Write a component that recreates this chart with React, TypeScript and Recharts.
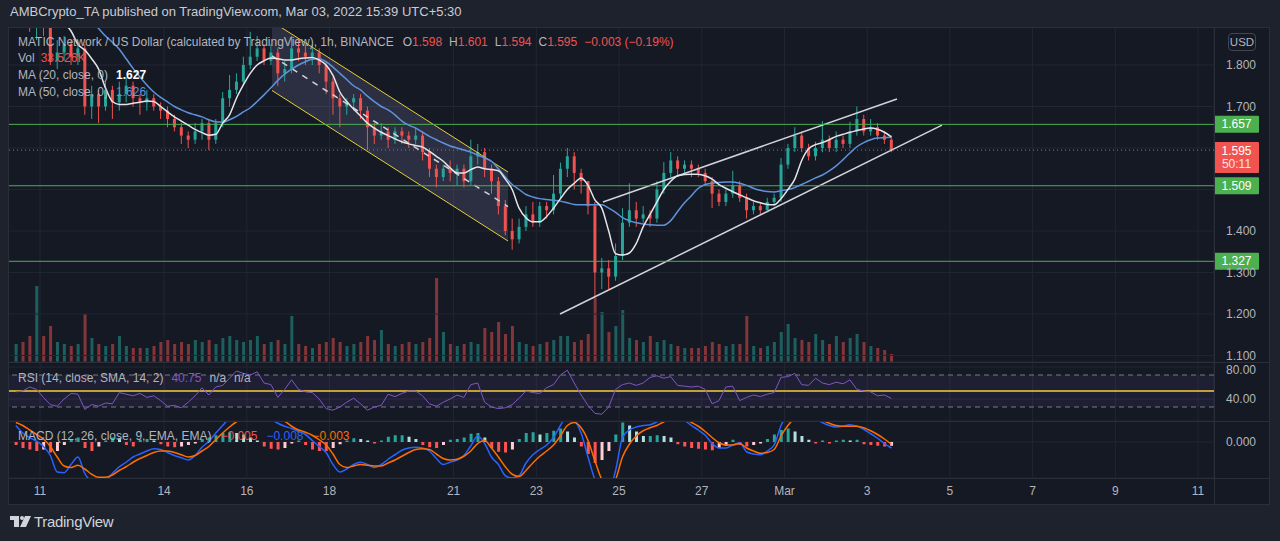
import React from 'react';
import { ComposedChart, Bar, Line, Area, XAxis, YAxis, CartesianGrid, ReferenceLine, ReferenceArea } from 'recharts';

const FONT = "'Liberation Sans', Arial, sans-serif";
const PAGE_BG = '#1e222d';
const BG = '#151924';
const BORDER = '#2a2e39';
const GRID = '#222632';
const TEXT = '#b2b5be';
const UP = '#26a69a';
const DOWN = '#ef5350';
const GREEN = '#4caf50';

// 4h candles, day 0 = Feb 11 00:00
const START_DAY = -0.667;
const CANDLE_DAYS = 1 / 6;
const FIRST_OPEN = 1.94;

const closes = [
  1.95, 1.93, 1.91, 1.93, 1.90, 1.81, 1.83, 1.85, 1.82, 1.84,
  1.70, 1.73, 1.70, 1.74, 1.71, 1.73, 1.75, 1.72, 1.71, 1.72,
  1.70, 1.69, 1.67, 1.65, 1.63, 1.62, 1.64, 1.66, 1.62, 1.66,
  1.72, 1.74, 1.76, 1.80, 1.82, 1.84, 1.81, 1.83, 1.78, 1.79,
  1.84, 1.83, 1.82, 1.83, 1.80, 1.76, 1.72, 1.70, 1.71, 1.72,
  1.69, 1.65, 1.63, 1.64, 1.62, 1.64, 1.63, 1.62, 1.63, 1.59,
  1.55, 1.53, 1.55, 1.54, 1.55, 1.52, 1.58, 1.59, 1.55, 1.52,
  1.46, 1.40, 1.38, 1.41, 1.44, 1.42, 1.46, 1.45, 1.49, 1.55,
  1.58, 1.54, 1.52, 1.46, 1.30, 1.31, 1.29, 1.34, 1.42, 1.45,
  1.43, 1.44, 1.43, 1.50, 1.54, 1.57, 1.55, 1.56, 1.55, 1.54,
  1.52, 1.49, 1.47, 1.49, 1.51, 1.48, 1.45, 1.46, 1.45, 1.47,
  1.48, 1.56, 1.60, 1.63, 1.60, 1.58, 1.60, 1.62, 1.60, 1.62,
  1.61, 1.64, 1.67, 1.64, 1.65, 1.63, 1.62, 1.595,
];

const highs = [
  1.97, 1.96, 1.94, 1.95, 1.94, 1.91, 1.86, 1.87, 1.86, 1.86,
  1.85, 1.75, 1.74, 1.76, 1.75, 1.76, 1.77, 1.76, 1.73, 1.74,
  1.73, 1.71, 1.70, 1.68, 1.66, 1.64, 1.66, 1.67, 1.67, 1.67,
  1.735, 1.776, 1.78, 1.82, 1.88, 1.87, 1.85, 1.85, 1.84, 1.81,
  1.87, 1.86, 1.85, 1.85, 1.84, 1.81, 1.77, 1.73, 1.72, 1.73,
  1.73, 1.70, 1.66, 1.66, 1.65, 1.65, 1.65, 1.64, 1.65, 1.64,
  1.60, 1.56, 1.56, 1.57, 1.56, 1.56, 1.62, 1.61, 1.60, 1.56,
  1.53, 1.475, 1.43, 1.43, 1.46, 1.47, 1.47, 1.47, 1.535, 1.565,
  1.60, 1.59, 1.55, 1.52, 1.47, 1.335, 1.33, 1.37, 1.455, 1.515,
  1.47, 1.46, 1.45, 1.52, 1.566, 1.59, 1.58, 1.57, 1.57, 1.56,
  1.55, 1.53, 1.50, 1.50, 1.545, 1.52, 1.49, 1.47, 1.47, 1.48,
  1.49, 1.576, 1.61, 1.65, 1.64, 1.61, 1.615, 1.665, 1.63, 1.64,
  1.63, 1.663, 1.70, 1.68, 1.67, 1.66, 1.64, 1.63,
];

const lows = [
  1.92, 1.91, 1.88, 1.86, 1.87, 1.80, 1.79, 1.81, 1.80, 1.80,
  1.68, 1.67, 1.66, 1.69, 1.67, 1.69, 1.71, 1.70, 1.68, 1.69,
  1.69, 1.67, 1.65, 1.64, 1.61, 1.60, 1.61, 1.62, 1.595, 1.61,
  1.65, 1.70, 1.73, 1.75, 1.79, 1.81, 1.80, 1.80, 1.75, 1.76,
  1.78, 1.81, 1.80, 1.80, 1.78, 1.73, 1.68, 1.65, 1.68, 1.69,
  1.67, 1.595, 1.61, 1.62, 1.60, 1.61, 1.61, 1.60, 1.61, 1.57,
  1.53, 1.505, 1.52, 1.52, 1.51, 1.505, 1.51, 1.56, 1.53, 1.49,
  1.44, 1.39, 1.355, 1.37, 1.40, 1.41, 1.41, 1.43, 1.44, 1.48,
  1.53, 1.50, 1.49, 1.44, 1.24, 1.26, 1.26, 1.28, 1.33, 1.41,
  1.41, 1.42, 1.41, 1.42, 1.49, 1.53, 1.53, 1.54, 1.53, 1.53,
  1.51, 1.455, 1.46, 1.46, 1.48, 1.47, 1.43, 1.44, 1.44, 1.45,
  1.46, 1.47, 1.55, 1.59, 1.59, 1.57, 1.57, 1.59, 1.59, 1.59,
  1.60, 1.60, 1.63, 1.63, 1.63, 1.62, 1.61, 1.59,
];

const volumes = [
  9, 10, 13, 38, 13, 18, 10, 9, 8, 9,
  24, 12, 9, 8, 9, 13, 8, 7, 7, 7,
  8, 10, 11, 9, 10, 9, 11, 10, 11, 9,
  12, 13, 11, 10, 11, 13, 9, 10, 11, 9,
  23, 9, 8, 7, 9, 10, 12, 10, 8, 9,
  10, 13, 11, 16, 9, 8, 9, 10, 9, 10,
  12, 42, 15, 9, 8, 9, 10, 9, 17, 15,
  20, 14, 18, 10, 9, 8, 9, 10, 11, 13,
  13, 10, 11, 14, 32, 25, 15, 18, 26, 12,
  11, 10, 13, 10, 11, 9, 8, 7, 7, 7,
  8, 10, 9, 8, 9, 9, 23, 8, 7, 8,
  10, 15, 19, 12, 11, 10, 14, 11, 9, 13,
  10, 12, 14, 10, 8, 7, 6, 4,
];

const ma20 = [
  1.99, 1.97, 1.95, 1.94, 1.93, 1.92, 1.91, 1.90, 1.882, 1.85,
  1.836, 1.815, 1.79, 1.745, 1.712, 1.705, 1.705, 1.708, 1.71, 1.713,
  1.712, 1.70, 1.687, 1.675, 1.665, 1.655, 1.645, 1.637, 1.631, 1.633,
  1.66, 1.68, 1.72, 1.752, 1.78, 1.80, 1.81, 1.817, 1.815, 1.812,
  1.812, 1.815, 1.817, 1.818, 1.812, 1.80, 1.775, 1.735, 1.712, 1.694,
  1.677, 1.66, 1.648, 1.638, 1.63, 1.622, 1.615, 1.61, 1.606, 1.602,
  1.592, 1.58, 1.568, 1.552, 1.54, 1.54, 1.548, 1.554, 1.55, 1.548,
  1.545, 1.525, 1.50, 1.455, 1.432, 1.422, 1.422, 1.435, 1.455, 1.478,
  1.50, 1.515, 1.528, 1.51, 1.475, 1.455, 1.40, 1.345, 1.342, 1.347,
  1.37, 1.41, 1.44, 1.47, 1.50, 1.52, 1.533, 1.536, 1.537, 1.537,
  1.533, 1.525, 1.512, 1.503, 1.495, 1.487, 1.48, 1.473, 1.468, 1.464,
  1.463, 1.478, 1.50, 1.525, 1.57, 1.598, 1.608, 1.613, 1.62, 1.628,
  1.633, 1.638, 1.642, 1.646, 1.648, 1.645, 1.638, 1.627,
];

const ma50 = [
  2.06, 2.05, 2.04, 2.03, 2.01, 1.99, 1.975, 1.96, 1.945, 1.93,
  1.92, 1.905, 1.888, 1.87, 1.855, 1.838, 1.815, 1.792, 1.771, 1.752,
  1.735, 1.722, 1.711, 1.70, 1.692, 1.685, 1.68, 1.675, 1.668, 1.663,
  1.662, 1.668, 1.676, 1.687, 1.697, 1.712, 1.728, 1.745, 1.763, 1.778,
  1.79, 1.80, 1.808, 1.814, 1.815, 1.808, 1.795, 1.78, 1.765, 1.75,
  1.74, 1.725, 1.712, 1.70, 1.692, 1.68, 1.665, 1.655, 1.648, 1.638,
  1.628, 1.62, 1.612, 1.605, 1.60, 1.595, 1.59, 1.583, 1.576, 1.568,
  1.55, 1.53, 1.512, 1.50, 1.488, 1.482, 1.478, 1.476, 1.474, 1.472,
  1.468, 1.464, 1.463, 1.463, 1.463, 1.463, 1.455, 1.445, 1.432, 1.425,
  1.42, 1.417, 1.415, 1.414, 1.414, 1.425, 1.447, 1.468, 1.485, 1.503,
  1.512, 1.515, 1.517, 1.518, 1.518, 1.515, 1.51, 1.503, 1.498, 1.495,
  1.494, 1.497, 1.50, 1.505, 1.512, 1.52, 1.528, 1.535, 1.545, 1.557,
  1.572, 1.588, 1.603, 1.613, 1.62, 1.624, 1.625, 1.626,
];

const rsi = [
  49, 50, 55, 52, 42, 33, 31, 40, 47, 46,
  27, 33, 31, 35, 34, 48, 46, 44, 47, 42,
  44, 38, 31, 32, 29, 36, 44, 54, 45, 55,
  57, 66, 75, 72, 70, 74, 60, 58, 42, 52,
  64, 52, 49, 48, 40, 28, 26, 30, 36, 41,
  34, 26, 30, 32, 46, 43, 47, 50, 50, 44,
  34, 31, 36, 40, 45, 42, 58, 60, 36, 30,
  28, 29, 33, 41, 50, 48, 47, 54, 58, 70,
  76, 60, 45, 32, 22, 21, 30, 52, 58, 60,
  57, 60, 67, 69, 66, 68, 57, 56, 55, 56,
  52, 34, 38, 55, 56, 38, 42, 45, 43, 46,
  48, 67, 68, 72, 58, 57, 66, 60, 58, 61,
  59, 64, 52, 50, 49, 44, 45, 40.75,
];

const macdLine = [
  0.022, 0.012, 0.006, 0.001, -0.006, -0.018, -0.040, -0.041, -0.030, -0.020,
  -0.042, -0.053, -0.057, -0.052, -0.042, -0.033, -0.027, -0.020, -0.016, -0.012,
  -0.009, -0.010, -0.014, -0.018, -0.021, -0.024, -0.018, -0.007, 0.001, 0.012,
  0.022, 0.032, 0.038, 0.042, 0.044, 0.045, 0.040, 0.031, 0.025, 0.021,
  0.018, 0.014, 0.010, 0.002, -0.006, -0.014, -0.030, -0.040, -0.036, -0.030,
  -0.027, -0.030, -0.034, -0.030, -0.023, -0.017, -0.011, -0.008, -0.007, -0.008,
  -0.012, -0.022, -0.030, -0.027, -0.024, -0.018, -0.005, 0.008, -0.002, -0.020,
  -0.030, -0.045, -0.048, -0.045, -0.028, -0.017, -0.010, -0.004, 0.006, 0.022,
  0.036, 0.030, 0.012, -0.020, -0.050, -0.066, -0.065, -0.038, 0.006, 0.016,
  0.020, 0.022, 0.023, 0.027, 0.034, 0.038, 0.036, 0.029, 0.022, 0.016,
  0.009, -0.002, -0.008, -0.008, -0.004, -0.001, -0.013, -0.016, -0.017, -0.012,
  -0.004, 0.022, 0.036, 0.042, 0.044, 0.040, 0.032, 0.026, 0.022, 0.020,
  0.021, 0.023, 0.021, 0.017, 0.011, 0.005, -0.002, -0.008,
];

const signalLine = [
  0.026, 0.022, 0.016, 0.010, 0.004, -0.006, -0.020, -0.032, -0.034, -0.031,
  -0.036, -0.043, -0.047, -0.047, -0.044, -0.038, -0.033, -0.027, -0.022, -0.018,
  -0.014, -0.012, -0.012, -0.014, -0.017, -0.020, -0.018, -0.012, -0.006, 0.003,
  0.012, 0.020, 0.027, 0.032, 0.036, 0.040, 0.040, 0.037, 0.033, 0.028,
  0.021, 0.016, 0.013, 0.009, 0.003, -0.004, -0.016, -0.030, -0.034, -0.032,
  -0.030, -0.031, -0.032, -0.032, -0.028, -0.024, -0.019, -0.014, -0.010, -0.009,
  -0.010, -0.016, -0.022, -0.024, -0.023, -0.019, -0.012, -0.002, 0.002, -0.008,
  -0.020, -0.033, -0.043, -0.046, -0.038, -0.028, -0.019, -0.012, -0.004, 0.008,
  0.022, 0.026, 0.019, 0.002, -0.025, -0.050, -0.060, -0.050, -0.020, -0.003,
  0.008, 0.015, 0.019, 0.022, 0.027, 0.031, 0.033, 0.031, 0.026, 0.021,
  0.014, 0.006, -0.001, -0.004, -0.004, -0.002, -0.008, -0.012, -0.015, -0.014,
  -0.010, 0.008, 0.022, 0.032, 0.038, 0.039, 0.035, 0.029, 0.025, 0.022,
  0.021, 0.021, 0.021, 0.019, 0.015, 0.010, 0.004, -0.003,
];

const histogram = [
  -0.004, -0.008, -0.010, -0.012, -0.010, -0.014, -0.012, -0.004, 0.004, 0.006,
  -0.008, -0.012, -0.006, 0.002, 0.006, 0.005, -0.004, -0.006, 0.003, 0.004,
  0.002, -0.003, -0.006, -0.007, -0.006, -0.004, -0.002, 0.004, 0.006, 0.009,
  0.012, 0.013, 0.012, 0.010, 0.006, 0.002, -0.006, -0.009, -0.010, -0.008,
  -0.002, 0.002, -0.004, -0.010, -0.012, -0.012, -0.008, -0.003, 0.002, 0.005,
  0.004, 0.002, -0.002, 0.002, 0.007, 0.009, 0.009, 0.007, 0.004, -0.004,
  -0.007, -0.008, -0.004, 0.003, 0.004, 0.006, 0.011, 0.012, 0.006, -0.008,
  -0.013, -0.014, -0.010, 0.004, 0.012, 0.013, 0.010, 0.012, 0.015, 0.018,
  0.014, 0.006, -0.006, -0.016, -0.028, -0.024, -0.012, 0.010, 0.026, 0.022,
  0.014, 0.008, 0.008, 0.009, 0.008, 0.006, -0.003, -0.006, -0.008, -0.009,
  -0.010, -0.011, -0.008, -0.005, 0.003, -0.004, -0.006, -0.004, -0.002, 0.004,
  0.010, 0.016, 0.018, 0.014, 0.008, 0.003, -0.002, 0.002, -0.002, 0.002,
  0.003, 0.002, 0.003, -0.003, -0.004, -0.005, -0.006, -0.005,
];

const dayTicks = [0, 3, 5, 7, 10, 12, 14, 16, 18, 20, 22, 24, 26, 28];
const dayLabels = ['11', '14', '16', '18', '21', '23', '25', '27', 'Mar', '3', '5', '7', '9', '11'];
const priceTicks = [1.1, 1.2, 1.3, 1.4, 1.5, 1.6, 1.7, 1.8];
const hiddenPriceTicks = [1.5, 1.6];
const rsiTicks = [40, 80];
const levels = [1.657, 1.509, 1.327];
const lastPrice = 1.595;
const countdown = '50:11';

// drawings (day, price)
const descChannel = [
  { t: 5.609, band: [1.7386, 1.9048], top: 1.9048, bottom: 1.7386, mid: 1.8217 },
  { t: 11.315, band: [1.3759, 1.5422], top: 1.5422, bottom: 1.3759, mid: 1.459 },
];
const wedgeUpper = [{ t: 13.612, p: 1.47 }, { t: 20.72, p: 1.718 }];
const wedgeLower = [{ t: 12.573, p: 1.2 }, { t: 21.808, p: 1.655 }];

const X_DOMAIN: [number, number] = [-0.774, 28.385];
const PRICE_DOMAIN: [number, number] = [1.0843, 1.8916];
const VOL_DOMAIN: [number, number] = [0, 167.5];
const RSI_DOMAIN: [number, number] = [12.5, 86.25];
const MACD_DOMAIN: [number, number] = [-0.048, 0.028];

const rows = closes.map((close, i) => {
  const open = i === 0 ? FIRST_OPEN : closes[i - 1];
  const h = histogram[i];
  const prev = i === 0 ? h : histogram[i - 1];
  return {
    t: START_DAY + (i + 0.5) * CANDLE_DAYS,
    open,
    close,
    high: highs[i],
    low: lows[i],
    up: close >= open,
    vol: volumes[i],
    ma20: ma20[i],
    ma50: ma50[i],
    rsi: rsi[i],
    macd: macdLine[i],
    signal: signalLine[i],
    hist: h,
    histColor: h >= 0 ? (h >= prev ? '#26a69a' : '#b2dfdb') : (h <= prev ? '#ff5252' : '#ffcdd2'),
  };
});

const CandleShape = (props: any) => {
  const { x, y, width, height, payload } = props;
  if (!payload || !isFinite(y)) return null;
  const { open, close, high, low, up } = payload;
  const k = height / (high - low);
  const yo = y + (high - open) * k;
  const yc = y + (high - close) * k;
  const cx = x + width / 2;
  const color = up ? UP : DOWN;
  return (
    <g>
      <line x1={cx} x2={cx} y1={y} y2={y + height} stroke={color} strokeWidth={1} />
      <rect x={cx - 1.5} y={Math.min(yo, yc)} width={3} height={Math.max(1, Math.abs(yc - yo))} fill={color} />
    </g>
  );
};

const VolumeShape = (props: any) => {
  const { x, y, width, height, payload } = props;
  if (!payload) return null;
  const cx = x + width / 2;
  return <rect x={cx - 1.5} y={y} width={3} height={Math.max(0, height)} fill={payload.up ? 'rgba(38,166,154,0.5)' : 'rgba(239,83,80,0.5)'} />;
};

const HistShape = (props: any) => {
  const { x, y, width, height, payload } = props;
  if (!payload) return null;
  const cx = x + width / 2;
  const top = height < 0 ? y + height : y;
  return <rect x={cx - 1.5} y={top} width={3} height={Math.abs(height)} fill={payload.histColor} />;
};

const RsiTick = (props: any) => {
  const { x, y, payload } = props;
  const shift = payload.value === 80 ? 3 : 0;
  return (
    <text x={x + 4} y={y + shift} dy="0.355em" textAnchor="start" fill={TEXT} fontSize={12} fontFamily={FONT}>
      {payload.value.toFixed(2)}
    </text>
  );
};

const PriceTag = (props: any) => {
  const { viewBox, tagText, tagSub, tagFill } = props;
  if (!viewBox) return null;
  const x = viewBox.x + viewBox.width;
  const y = viewBox.y;
  const h = tagSub ? 31 : 17;
  const top = tagSub ? y - 8 : y - h / 2;
  return (
    <g>
      <rect x={x} y={top} width={45} height={h} fill={tagFill} rx={1} />
      <text x={x + 22.5} y={top + 12.5} textAnchor="middle" fill="#ffffff" fontSize={12} fontFamily={FONT}>
        {tagText}
      </text>
      {tagSub && (
        <text x={x + 22.5} y={top + 26} textAnchor="middle" fill="#fbe3e2" fontSize={12} fontFamily={FONT}>
          {tagSub}
        </text>
      )}
    </g>
  );
};

const tickStyle = { fill: TEXT, fontSize: 12, fontFamily: FONT };

const Span = ({ c, ml, bold, children }: any) => (
  <span style={{ color: c || TEXT, marginLeft: ml || 0, fontWeight: bold ? 700 : 400 }}>{children}</span>
);

const legendRow = (top: number): React.CSSProperties => ({
  position: 'absolute', left: 18, top, fontSize: 12, whiteSpace: 'nowrap', lineHeight: '17px',
});

const App = () => {
  return (
    <div style={{ position: 'absolute', left: 0, top: 0, width: 1280, height: 541, background: PAGE_BG, fontFamily: FONT, overflow: 'hidden' }}>
      <div style={{ position: 'absolute', left: 10, top: 4, fontSize: 13, color: '#c9ccd4', whiteSpace: 'nowrap' }}>
        AMBCrypto_TA published on TradingView.com, Mar 03, 2022 15:39 UTC+5:30
      </div>

      <div style={{ position: 'absolute', left: 8, top: 27, width: 1262, height: 478, background: BG }} />

      {/* volume layer */}
      <div style={{ position: 'absolute', left: 8, top: 27 }}>
        <ComposedChart width={1262} height={335} data={rows} margin={{ top: 0, right: 56, bottom: 0, left: 0 }}>
          <XAxis type="number" dataKey="t" domain={X_DOMAIN} allowDataOverflow hide />
          <YAxis domain={VOL_DOMAIN} allowDataOverflow hide />
          <Bar dataKey="vol" shape={<VolumeShape />} isAnimationActive={false} />
        </ComposedChart>
      </div>

      {/* price pane */}
      <div style={{ position: 'absolute', left: 8, top: 27 }}>
        <ComposedChart width={1262} height={335} data={rows} margin={{ top: 0, right: 0, bottom: 0, left: 0 }}>
          <CartesianGrid stroke={GRID} />
          <XAxis type="number" dataKey="t" domain={X_DOMAIN} ticks={dayTicks} allowDataOverflow hide />
          <YAxis
            orientation="right"
            width={56}
            domain={PRICE_DOMAIN}
            ticks={priceTicks}
            interval={0}
            allowDataOverflow
            axisLine={false}
            tickLine={false}
            tick={{ ...tickStyle, dx: 4 }}
            tickFormatter={(v: number) => (hiddenPriceTicks.includes(v) ? '' : v.toFixed(3))}
          />
          <Area
            data={descChannel}
            dataKey="band"
            type="linear"
            stroke="none"
            fill="rgba(149,152,199,0.3)"
            isAnimationActive={false}
          />
          <ReferenceLine
            segment={[{ x: descChannel[0].t, y: descChannel[0].top }, { x: descChannel[1].t, y: descChannel[1].top }]}
            stroke="#e6cf34"
            strokeWidth={1}
            ifOverflow="hidden"
          />
          <ReferenceLine
            segment={[{ x: descChannel[0].t, y: descChannel[0].bottom }, { x: descChannel[1].t, y: descChannel[1].bottom }]}
            stroke="#e6cf34"
            strokeWidth={1}
            ifOverflow="hidden"
          />
          <ReferenceLine
            segment={[{ x: descChannel[0].t, y: descChannel[0].mid }, { x: descChannel[1].t, y: descChannel[1].mid }]}
            stroke="#d1d4dc"
            strokeWidth={1.5}
            strokeDasharray="6 6"
            ifOverflow="hidden"
          />
          <ReferenceLine
            segment={[{ x: wedgeUpper[0].t, y: wedgeUpper[0].p }, { x: wedgeUpper[1].t, y: wedgeUpper[1].p }]}
            stroke="#d1d4dc"
            strokeWidth={1.5}
            ifOverflow="hidden"
          />
          <ReferenceLine
            segment={[{ x: wedgeLower[0].t, y: wedgeLower[0].p }, { x: wedgeLower[1].t, y: wedgeLower[1].p }]}
            stroke="#d1d4dc"
            strokeWidth={1.5}
            ifOverflow="hidden"
          />
          {levels.map((lv) => (
            <ReferenceLine
              key={lv}
              y={lv}
              stroke={GREEN}
              strokeWidth={1}
              label={<PriceTag tagText={lv.toFixed(3)} tagFill={GREEN} />}
            />
          ))}
          <ReferenceLine
            y={lastPrice}
            stroke={DOWN}
            strokeWidth={1}
            strokeDasharray="1 3"
            label={<PriceTag tagText={lastPrice.toFixed(3)} tagSub={countdown} tagFill="#f05350" />}
          />
          <Line dataKey="ma50" type="monotone" stroke="#5e93dc" strokeWidth={1.5} dot={false} isAnimationActive={false} />
          <Line dataKey="ma20" type="monotone" stroke="#e3e5ea" strokeWidth={1.5} dot={false} isAnimationActive={false} />
          <Bar dataKey={(d: any) => [d.low, d.high]} shape={<CandleShape />} isAnimationActive={false} />
        </ComposedChart>
      </div>

      {/* RSI pane */}
      <div style={{ position: 'absolute', left: 8, top: 362 }}>
        <ComposedChart width={1262} height={59} data={rows} margin={{ top: 0, right: 0, bottom: 0, left: 0 }}>
          <CartesianGrid stroke={GRID} />
          <XAxis type="number" dataKey="t" domain={X_DOMAIN} ticks={dayTicks} allowDataOverflow hide />
          <YAxis
            orientation="right"
            width={56}
            domain={RSI_DOMAIN}
            ticks={rsiTicks}
            interval={0}
            allowDataOverflow
            axisLine={false}
            tickLine={false}
            tick={<RsiTick />}
          />
          <ReferenceArea y1={30} y2={70} fill="#7e57c2" fillOpacity={0.1} stroke="none" />
          <ReferenceLine y={70} stroke="#787b86" strokeDasharray="5 4" />
          <ReferenceLine y={30} stroke="#787b86" strokeDasharray="5 4" />
          <ReferenceLine y={50} stroke="#f5cf3b" strokeWidth={1.5} />
          <Line dataKey="rsi" type="linear" stroke="#7e57c2" strokeWidth={1} dot={false} isAnimationActive={false} />
        </ComposedChart>
      </div>

      {/* MACD pane + time axis */}
      <div style={{ position: 'absolute', left: 8, top: 421 }}>
        <ComposedChart width={1262} height={84} data={rows} margin={{ top: 0, right: 0, bottom: 0, left: 0 }}>
          <CartesianGrid stroke={GRID} />
          <XAxis
            type="number"
            dataKey="t"
            domain={X_DOMAIN}
            ticks={dayTicks}
            interval={0}
            allowDataOverflow
            height={27}
            axisLine={false}
            tickLine={false}
            tick={tickStyle}
            tickFormatter={(v: number) => dayLabels[dayTicks.indexOf(v)]}
          />
          <YAxis
            orientation="right"
            width={56}
            domain={MACD_DOMAIN}
            ticks={[0]}
            interval={0}
            allowDataOverflow
            axisLine={false}
            tickLine={false}
            tick={{ ...tickStyle, dx: 4 }}
            tickFormatter={(v: number) => v.toFixed(3)}
          />
          <Bar dataKey="hist" shape={<HistShape />} isAnimationActive={false} />
          <Line dataKey="macd" type="monotone" stroke="#2962ff" strokeWidth={1.5} dot={false} isAnimationActive={false} />
          <Line dataKey="signal" type="monotone" stroke="#ff6d00" strokeWidth={1.5} dot={false} isAnimationActive={false} />
        </ComposedChart>
      </div>

      {/* pane borders */}
      <div style={{ position: 'absolute', left: 8, top: 27, width: 1260, height: 476, border: `1px solid ${BORDER}` }} />
      <div style={{ position: 'absolute', left: 1214, top: 27, width: 1, height: 478, background: BORDER }} />
      {[362, 421, 478].map((y) => (
        <div key={y} style={{ position: 'absolute', left: 8, top: y, width: 1262, height: 1, background: BORDER }} />
      ))}

      {/* legends */}
      <div style={legendRow(34)}>
        <Span>MATIC Network / US Dollar (calculated by TradingView), 1h, BINANCE</Span>
        <Span ml={9}>O</Span><Span c={DOWN}>1.598</Span>
        <Span ml={7}>H</Span><Span c={DOWN}>1.601</Span>
        <Span ml={7}>L</Span><Span c={DOWN}>1.594</Span>
        <Span ml={7}>C</Span><Span c={DOWN}>1.595</Span>
        <Span ml={7} c={DOWN}>−0.003 (−0.19%)</Span>
      </div>
      <div style={legendRow(50)}>
        <Span>Vol</Span><Span ml={6} c={DOWN}>33.526K</Span>
      </div>
      <div style={legendRow(67)}>
        <Span>MA (20, close, 0)</Span><Span ml={8} c="#ffffff" bold>1.627</Span>
      </div>
      <div style={legendRow(84)}>
        <Span>MA (50, close, 0)</Span><Span ml={8} c="#5e93dc">1.626</Span>
      </div>
      <div style={legendRow(370)}>
        <Span>RSI (14, close, SMA, 14, 2)</Span>
        <Span ml={8} c="#7e57c2">40.75</Span>
        <Span ml={8}>n/a</Span>
        <Span ml={8}>n/a</Span>
      </div>
      <div style={legendRow(428)}>
        <Span>MACD (12, 26, close, 9, EMA, EMA)</Span>
        <Span ml={9} c={DOWN}>−0.005</Span>
        <Span ml={9} c="#2962ff">−0.008</Span>
        <Span ml={9} c="#ff6d00">−0.003</Span>
      </div>

      {/* currency box */}
      <div
        style={{
          position: 'absolute', left: 1228, top: 33, width: 26, height: 16, border: '1px solid #434651', borderRadius: 4,
          color: TEXT, fontSize: 11.5, lineHeight: '16px', textAlign: 'center',
        }}
      >
        USD
      </div>

      {/* footer logo */}
      <div style={{ position: 'absolute', left: 10, top: 513, display: 'flex', alignItems: 'center' }}>
        <svg width={21} height={13} viewBox="0 0 21 13">
          <rect x={0} y={1} width={9} height={4} fill="#d1d4dc" />
          <rect x={4} y={1} width={5} height={11} fill="#d1d4dc" />
          <circle cx={12} cy={3} r={2} fill="#d1d4dc" />
          <polygon points="15,1 21,1 16,12 10,12" fill="#d1d4dc" />
        </svg>
        <span style={{ marginLeft: 3, color: '#d1d4dc', fontSize: 15, letterSpacing: -0.3 }}>TradingView</span>
      </div>
    </div>
  );
};

export default App;
